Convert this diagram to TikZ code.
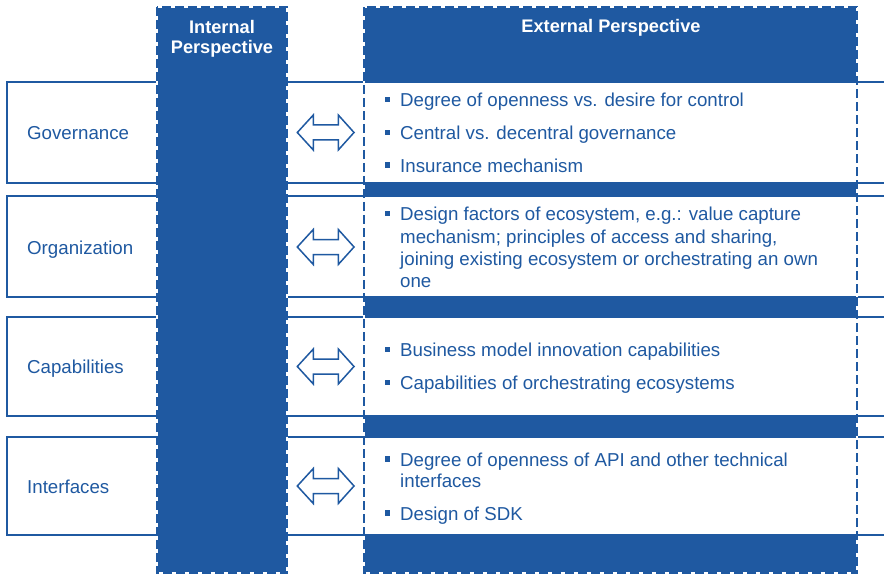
\documentclass[tikz,border=0pt]{standalone}
\usepackage{fontspec}
\setmainfont{Liberation Sans}
\definecolor{pblue}{RGB}{31,89,161}
\tikzset{
  rowbox/.style={draw=pblue, line width=1.6pt, fill=white},
  colfill/.style={fill=pblue},
  colunder/.style={draw=white, line width=2pt},
  coldash/.style={draw=pblue, line width=2.8pt, dash pattern=on 9pt off 4pt},
  dblarr/.style={draw=pblue, line width=1.5pt, fill=white, line join=miter},
  rowlabel/.style={text=pblue, anchor=base west, inner sep=0pt, font=\fontsize{18.7}{22.3}\selectfont},
  bultext/.style={text=pblue, anchor=base west, inner sep=0pt, font=\fontsize{18.7}{22.3}\selectfont},
  bulsq/.style={fill=pblue, minimum size=5.5pt, inner sep=0pt, outer sep=0pt},
  headtext/.style={text=white, inner sep=0pt, font=\bfseries\fontsize{18.2}{20}\selectfont},
}
\begin{document}
\begin{tikzpicture}[x=1pt,y=-1pt]
\useasboundingbox (0,0) rectangle (884,575);
% external column fill
\fill[colfill] (363,7) rectangle (858,573);
% rows
\foreach \t/\b in {82/183,196/297,317/416,437/535}{
  \fill[white] (7,\t) rectangle (884,\b);
  \draw[rowbox, fill=none] (884,\t) -- (7,\t) -- (7,\b) -- (884,\b);
}
% internal column
\fill[colfill] (157,7) rectangle (287,573);
% column borders
\draw[colunder] (157,7) rectangle (287,573);
\draw[coldash] (157,7) rectangle (287,573);
\draw[colunder] (364,7) rectangle (857,573);
\draw[coldash] (364,7) rectangle (857,573);
% headers
\node[headtext, anchor=base] (ih1) at (222,33.3) {Internal};
\node[headtext, anchor=base] (ih2) at (222,53.3) {Perspective};
\node[headtext, anchor=base] (eh) at (611,32.3) {External Perspective};
% row labels
\node[rowlabel] (lgov) at (27,140) {Governance};
\node[rowlabel] (lorg) at (27,254.5) {Organization};
\node[rowlabel] (lcap) at (27,373.5) {Capabilities};
\node[rowlabel] (lint) at (27,493.3) {Interfaces};
% double arrows
\foreach \n/\y in {agov/132.5,aorg/247,acap/366.5,aint/486}{
  \coordinate (\n) at (325.7,\y);
  \draw[dblarr, shift={(\n)}] (-28.4,0) -- (-12.4,-17.5) -- (-12.4,-7.5) -- (12.6,-7.5) -- (12.6,-17.5) -- (28.3,0) -- (12.6,17.5) -- (12.6,7.5) -- (-12.4,7.5) -- (-12.4,17.5) -- cycle;
}
% governance bullets
\node[bulsq] (bg1) at (387.5,99.7) {};
\node[bultext] (tg1) at (400,106.7) {Degree of openness vs. desire for control};
\node[bulsq] (bg2) at (387.5,132.7) {};
\node[bultext] (tg2) at (400,139.7) {Central vs. decentral governance};
\node[bulsq] (bg3) at (387.5,165) {};
\node[bultext] (tg3) at (400,172) {Insurance mechanism};
% organization bullets
\node[bulsq] (bo1) at (387.5,213.7) {};
\node[bultext] (to1) at (400,220.7) {Design factors of ecosystem, e.g.: value capture};
\node[bultext] (to2) at (400,243.1) {mechanism; principles of access and sharing,};
\node[bultext] (to3) at (400,265.5) {joining existing ecosystem or orchestrating an own};
\node[bultext] (to4) at (400,287.8) {one};
% capabilities bullets
\node[bulsq] (bc1) at (387.5,349.5) {};
\node[bultext] (tc1) at (400,356.5) {Business model innovation capabilities};
\node[bulsq] (bc2) at (387.5,382.5) {};
\node[bultext] (tc2) at (400,389.5) {Capabilities of orchestrating ecosystems};
% interfaces bullets
\node[bulsq] (bi1) at (387.5,459) {};
\node[bultext] (ti1) at (400,466) {Degree of openness of API and other technical};
\node[bultext] (ti2) at (400,487.5) {interfaces};
\node[bulsq] (bi2) at (387.5,513) {};
\node[bultext] (ti3) at (400,520) {Design of SDK};
\end{tikzpicture}
\end{document}
